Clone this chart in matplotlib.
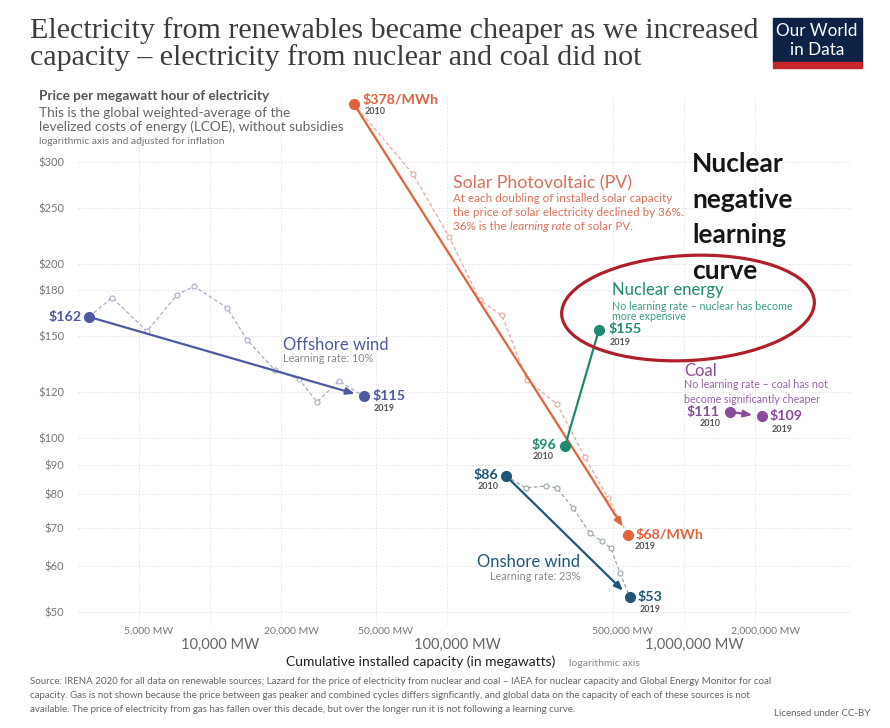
import matplotlib.pyplot as plt
from matplotlib.patches import Ellipse, Rectangle
from matplotlib.ticker import NullLocator
from matplotlib.transforms import ScaledTranslation

W, H = 890, 728

# values: installed capacity (MW) and price ($/MWh)
solar_mw = [40500, 71900, 102000, 137700, 170600, 217600, 291000, 382000, 478000, 580000]
solar_usd = [378, 286, 223, 173, 163, 126, 114.5, 92.7, 78.8, 68]

offshore_mw = [3090, 3860, 5420, 7260, 8560, 11800, 14300, 18800, 23700, 28300, 35000, 44700]
offshore_usd = [162, 175, 153, 177, 183, 168, 148, 131, 126.5, 115.5, 125.5, 118]

onshore_mw = [177400, 215000, 262000, 291000, 340000, 401000, 451000, 492000, 537000, 592000]
onshore_usd = [86, 82, 82.6, 82, 75.7, 68.5, 66.3, 64.5, 58.4, 53]

nuclear_mw = [315000, 438000]
nuclear_usd = [96.9, 154]

coal_mw = [1564000, 2133000]
coal_usd = [111, 109]

y_ticks = [50, 60, 70, 80, 90, 100, 120, 150, 180, 200, 250, 300]
x_major = [10000, 100000, 1000000]
x_minor = [5000, 20000, 50000, 500000, 2000000]

c_solar, c_solar_txt, c_solar_dash = '#e2623e', '#d9705b', '#e9a999'
c_off, c_off_dash = '#4d59a1', '#a9adc9'
c_on, c_on_dash = '#1f5675', '#9aa5ae'
c_nuc, c_nuc_txt = '#1d8a6f', '#3c9c86'
c_coal, c_coal_txt = '#8b4b9a', '#9a62a9'
c_year = '#555555'

plt.rcParams['font.family'] = ['Lato', 'DejaVu Sans']

fig = plt.figure(figsize=(W / 100, H / 100), dpi=100)


def fx(x):
    return x / W


def fy(y):
    return 1 - y / H


ax = fig.add_axes([fx(78), fy(625), (850 - 78) / W, (625 - 95) / H])
ax.set_xscale('log')
ax.set_yscale('log')
ax.set_xlim(2773, 5.02e6)
ax.set_ylim(47.5, 392)

ax.set_yticks(y_ticks)
ax.set_yticklabels([f'${v}' for v in y_ticks])
ax.yaxis.set_minor_locator(NullLocator())
ax.set_xticks(x_major)
ax.set_xticklabels([f'{v:,} MW' for v in x_major])
ax.set_xticks(x_minor, minor=True)
ax.set_xticklabels([f'{v:,} MW' for v in x_minor], minor=True)
ax.tick_params(axis='y', length=0, pad=10, labelsize=8, labelcolor='#777777')
ax.tick_params(axis='x', which='major', length=0, pad=9, labelsize=10.5, labelcolor='#666666')
ax.tick_params(axis='x', which='minor', length=0, pad=1, labelsize=7.5, labelcolor='#777777')
shift = ScaledTranslation(10 / 100, 0, fig.dpi_scale_trans)
for lbl in ax.get_xticklabels(which='both'):
    lbl.set_transform(lbl.get_transform() + shift)
for s in ax.spines.values():
    s.set_visible(False)
ax.grid(True, which='both', ls=(0, (2, 2)), lw=0.6, color='#e2e2e2')
ax.set_axisbelow(True)


def dashed(mw, usd, c):
    ax.plot(mw, usd, ls=(0, (3, 2)), lw=0.9, color=c, marker='o', ms=3.6,
            mfc='white', mec=c, mew=0.8, zorder=2)


def trend(mw, usd, c, head=True):
    style = '-|>,head_length=0.5,head_width=0.2' if head else '-'
    ax.annotate('', xy=(mw[-1], usd[-1]), xytext=(mw[0], usd[0]),
                arrowprops=dict(arrowstyle=style, color=c, lw=1.6, shrinkA=0,
                                shrinkB=7 if head else 0), zorder=3)
    ax.plot([mw[0], mw[-1]], [usd[0], usd[-1]], 'o', ms=7, color=c, zorder=4)


def label(x, y, txt, dx, dy, c, size=10.3, weight='bold', ha='left'):
    ax.annotate(txt, xy=(x, y), xytext=(dx, dy), textcoords='offset pixels',
                ha=ha, va='center', fontsize=size, fontweight=weight, color=c)


dashed(solar_mw, solar_usd, c_solar_dash)
dashed(offshore_mw, offshore_usd, c_off_dash)
dashed(onshore_mw, onshore_usd, c_on_dash)

trend([solar_mw[0], solar_mw[-1]], [solar_usd[0], solar_usd[-1]], c_solar)
trend([offshore_mw[0], offshore_mw[-1]], [offshore_usd[0], offshore_usd[-1]], c_off)
trend([onshore_mw[0], onshore_mw[-1]], [onshore_usd[0], onshore_usd[-1]], c_on)
trend(nuclear_mw, nuclear_usd, c_nuc, head=False)
trend(coal_mw, coal_usd, c_coal)

# point labels
label(solar_mw[0], solar_usd[0], '$378/MWh', 9, 4, c_solar)
label(solar_mw[0], solar_usd[0], '2010', 11, -7, c_year, 6.5)
label(solar_mw[-1], solar_usd[-1], '$68/MWh', 8, 0, c_solar)
label(solar_mw[-1], solar_usd[-1], '2019', 7, -12, c_year, 6.5)

label(offshore_mw[0], offshore_usd[0], '$162', -7, 0, c_off, ha='right')
label(offshore_mw[-1], offshore_usd[-1], '$115', 8, 0, c_off)
label(offshore_mw[-1], offshore_usd[-1], '2019', 9, -12, c_year, 6.5)

label(nuclear_mw[0], nuclear_usd[0], '$96', -9, 1, c_nuc, ha='right')
label(nuclear_mw[0], nuclear_usd[0], '2010', -22, -11, c_year, 6.5, ha='center')
label(nuclear_mw[-1], nuclear_usd[-1], '$155', 10, 1, c_nuc)
label(nuclear_mw[-1], nuclear_usd[-1], '2019', 11, -13, c_year, 6.5)

label(onshore_mw[0], onshore_usd[0], '$86', -8, 1, c_on, ha='right')
label(onshore_mw[0], onshore_usd[0], '2010', -18, -11, c_year, 6.5, ha='center')
label(onshore_mw[-1], onshore_usd[-1], '$53', 8, 0, c_on)
label(onshore_mw[-1], onshore_usd[-1], '2019', 10, -12, c_year, 6.5)

label(coal_mw[0], coal_usd[0], '$111', -10, 0, c_coal, ha='right')
label(coal_mw[0], coal_usd[0], '2010', -20, -12, c_year, 6.5, ha='center')
label(coal_mw[-1], coal_usd[-1], '$109', 8, 0, c_coal)
label(coal_mw[-1], coal_usd[-1], '2019', 10, -13, c_year, 6.5)

# series titles and notes
fig.text(fx(453), fy(183), 'Solar Photovoltaic (PV)', fontsize=12.8, color=c_solar_txt, va='center')
fig.text(fx(453), fy(198), 'At each doubling of installed solar capacity', fontsize=8.4, color=c_solar_txt, va='center')
fig.text(fx(453), fy(212), 'the price of solar electricity declined by 36%.', fontsize=8.4, color=c_solar_txt, va='center')
t1 = fig.text(fx(453), fy(226), '36% is the ', fontsize=8.4, color=c_solar_txt, va='center')
t2 = ax.annotate('learning rate', xy=(1, 0), xycoords=t1, va='bottom', fontsize=8.4,
                 color=c_solar_txt, style='italic')
ax.annotate(' of solar PV.', xy=(1, 0), xycoords=t2, va='bottom', fontsize=8.4, color=c_solar_txt)

fig.text(fx(283), fy(345), 'Offshore wind', fontsize=12, color=c_off, va='center')
fig.text(fx(283), fy(359), 'Learning rate: 10%', fontsize=7.8, color='#8a8a8a', va='center')

fig.text(fx(612), fy(290), 'Nuclear energy', fontsize=12, color=c_nuc, va='center')
fig.text(fx(612), fy(306), 'No learning rate – nuclear has become', fontsize=7.7, color=c_nuc_txt, va='center')
fig.text(fx(612), fy(317), 'more expensive', fontsize=7.7, color=c_nuc_txt, va='center')

fig.text(fx(684), fy(371), 'Coal', fontsize=12, color=c_coal, va='center')
fig.text(fx(684), fy(385), 'No learning rate – coal has not', fontsize=7.7, color=c_coal_txt, va='center')
fig.text(fx(684), fy(399), 'become significantly cheaper', fontsize=7.7, color=c_coal_txt, va='center')

fig.text(fx(580), fy(562), 'Onshore wind', fontsize=12, color=c_on, va='center', ha='right')
fig.text(fx(580), fy(576), 'Learning rate: 23%', fontsize=7.8, color='#8a8a8a', va='center', ha='right')

# overlay note and red ellipse
for i, word in enumerate(['Nuclear', 'negative', 'learning', 'curve']):
    fig.text(fx(692), fy(164 + 35.7 * i), word, fontsize=19, fontweight='bold', color='#161616', va='center')
fig.patches.append(Ellipse((688 / 100, (H - 308) / 100), 2.53, 1.05, angle=3, fill=False,
                           ec='#b0202a', lw=2.3, transform=fig.dpi_scale_trans, zorder=10))

# header
fig.text(fx(30), fy(38), 'Electricity from renewables became cheaper as we increased',
         fontsize=21.6, family='Liberation Serif', color='#3c3c3c', va='baseline')
fig.text(fx(30), fy(65), 'capacity – electricity from nuclear and coal did not',
         fontsize=21.6, family='Liberation Serif', color='#3c3c3c', va='baseline')
fig.patches.append(Rectangle((fx(773), fy(62)), 89 / W, 44 / H, color='#0d2245', transform=fig.transFigure))
fig.patches.append(Rectangle((fx(773), fy(68)), 89 / W, 6 / H, color='#c8262b', transform=fig.transFigure))
fig.text(fx(817), fy(31), 'Our World', fontsize=12.3, color='white', ha='center', va='center')
fig.text(fx(817), fy(50), 'in Data', fontsize=12.3, color='white', ha='center', va='center')

fig.text(fx(39), fy(96), 'Price per megawatt hour of electricity', fontsize=9.8, fontweight='bold', color='#555555', va='center')
fig.text(fx(39), fy(113), 'This is the global weighted-average of the', fontsize=9.8, color='#666666', va='center')
fig.text(fx(39), fy(127), 'levelized costs of energy (LCOE), without subsidies', fontsize=9.8, color='#666666', va='center')
fig.text(fx(39), fy(142), 'logarithmic axis and adjusted for inflation', fontsize=7.4, color='#777777', va='center')

# axis title and footer
fig.text(fx(421), fy(662), 'Cumulative installed capacity (in megawatts)', fontsize=10, color='#222222', ha='center', va='center')
fig.text(fx(569), fy(663), 'logarithmic axis', fontsize=7.5, color='#888888', va='center')

source = ['Source: IRENA 2020 for all data on renewable sources; Lazard for the price of electricity from nuclear and coal – IAEA for nuclear capacity and Global Energy Monitor for coal',
          'capacity. Gas is not shown because the price between gas peaker and combined cycles differs signficantly, and global data on the capacity of each of these sources is not',
          'available. The price of electricity from gas has fallen over this decade, but over the longer run it is not following a learning curve.']
for i, line in enumerate(source):
    fig.text(fx(30), fy(681 + 14.5 * i), line, fontsize=7, color='#666666', va='center')
fig.text(fx(870), fy(714), 'Licensed under CC-BY', fontsize=7, color='#666666', va='center', ha='right')

fig.savefig('out.png', dpi=100)
